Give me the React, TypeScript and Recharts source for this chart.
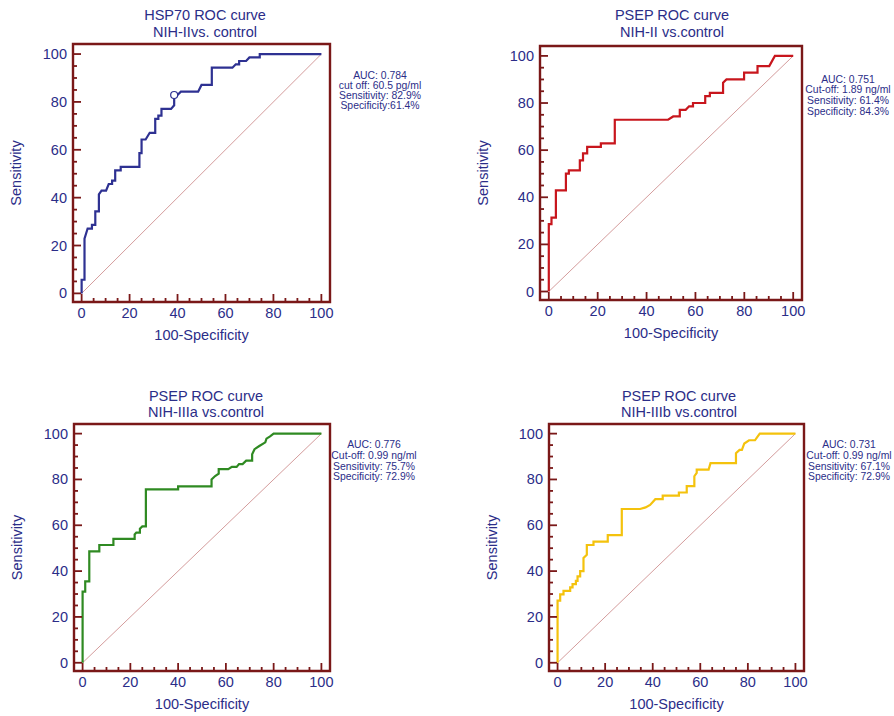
import React from "react";
import { LineChart, Line, XAxis, YAxis, ReferenceArea } from "recharts";

// ROC curve vertices (x = 100-Specificity, y = Sensitivity)
const hspFpr = [0, 0, 1.2, 1.2, 2.5, 4.3, 4.3, 5.7, 5.7, 7.2, 7.2, 8.3, 10.2, 11.3, 12.7, 12.7, 14, 14, 16.3, 16.3, 24.1, 24.1, 25, 25, 26.7, 28.4, 30.7, 30.7, 32, 32, 33.3, 33.3, 37.3, 38.6, 38.6, 40, 41.4, 48.6, 50, 54.3, 54.3, 62.9, 64.3, 65.7, 65.7, 68.6, 70, 74.3, 74.3, 100];
const hspTpr = [0, 5.7, 5.7, 22.9, 27.1, 27.1, 28.6, 28.6, 34.3, 34.3, 41.4, 42.9, 42.9, 45.7, 45.7, 47.1, 47.1, 51.4, 51.4, 52.9, 52.9, 58.6, 58.6, 64.3, 64.3, 67.1, 67.1, 72.9, 72.9, 74.3, 74.3, 77.1, 77.1, 78.6, 82.9, 82.9, 84.3, 84.3, 87.1, 87.1, 94.3, 94.3, 95.7, 95.7, 97.1, 97.1, 98.6, 98.6, 100, 100];

const psep2Fpr = [0, 0, 1.1, 1.1, 2.9, 2.9, 7, 7, 8.2, 8.2, 12.7, 12.7, 14, 14, 15.7, 15.7, 21.3, 21.3, 27, 27, 48.8, 50.9, 53.6, 53.6, 56, 57.4, 59, 59, 64, 64, 65.9, 65.9, 71.3, 71.3, 72.7, 79.9, 79.9, 85.4, 85.4, 90.2, 92.5, 100];
const psep2Tpr = [0, 28.6, 28.6, 31.4, 31.4, 42.9, 42.9, 50, 50, 51.4, 51.4, 55.7, 55.7, 58.6, 58.6, 61.4, 61.4, 62.9, 62.9, 72.9, 72.9, 74.3, 74.3, 77.1, 77.1, 78.6, 78.6, 80, 80, 82.9, 82.9, 84.3, 84.3, 88.6, 90, 90, 92.9, 92.9, 95.7, 95.7, 100, 100];

const psep3aFpr = [0, 0, 1.1, 1.1, 2.8, 2.8, 7, 7, 12.9, 12.9, 21.8, 21.8, 22.5, 24, 24, 25, 26.5, 26.5, 40, 40, 54, 54, 55.5, 57, 57, 61, 62.5, 64.5, 65.5, 67, 68.5, 71, 71, 72, 74, 76.5, 77, 78.5, 80, 100];
const psep3aTpr = [0, 31, 31, 35.5, 35.5, 48.6, 48.6, 51.4, 51.4, 54.1, 54.1, 56, 56.8, 56.8, 58.5, 59.5, 59.5, 75.7, 75.7, 77, 77, 80, 81.5, 82.5, 84.5, 84.5, 85.5, 85.5, 86.7, 86.7, 88.2, 88.2, 91, 93.2, 94.6, 96.2, 97.8, 98.8, 100, 100];

const psep3bFpr = [0, 0, 1.1, 1.1, 2.5, 2.5, 5.3, 5.3, 6.3, 6.3, 7.7, 7.7, 8.4, 8.4, 9.5, 9.5, 10.9, 10.9, 12.3, 12.3, 15.1, 15.1, 21.1, 21.1, 27, 27, 34.7, 37, 38.9, 41.1, 44.2, 44.2, 51, 51, 54.3, 54.3, 57.5, 57.5, 58.5, 58.5, 63.5, 64.3, 75, 75, 76.5, 77.5, 78.5, 80.5, 83, 84, 85, 100];
const psep3bTpr = [0, 27.1, 27.1, 29.8, 29.8, 31.4, 31.4, 32.9, 32.9, 34.3, 34.3, 35.7, 35.7, 37.7, 37.7, 40, 40, 45.7, 47.1, 51.4, 51.4, 52.9, 52.9, 55.7, 55.7, 67.1, 67.1, 67.8, 68.9, 71.4, 71.4, 72.9, 72.9, 74.3, 74.3, 77.1, 77.1, 81.4, 82.9, 84.3, 84.3, 87.1, 87.1, 91.4, 92.9, 92.9, 95.7, 97.1, 97.1, 98.6, 100, 100];

const diagX = [0, 100];
const diagY = [0, 100];

const axisTicks = [0, 5, 10, 15, 20, 25, 30, 35, 40, 45, 50, 55, 60, 65, 70, 75, 80, 85, 90, 95, 100];

const hspLines = ["HSP70 ROC curve", "NIH-IIvs. control"];
const psep2Lines = ["PSEP ROC curve", "NIH-II vs.control"];
const psep3aLines = ["PSEP ROC curve", "NIH-IIIa vs.control"];
const psep3bLines = ["PSEP ROC curve", "NIH-IIIb vs.control"];

const hspNote = ["AUC: 0.784", "cut off: 60.5 pg/ml", "Sensitivity: 82.9%", "Specificity:61.4%"];
const psep2Note = ["AUC: 0.751", "Cut-off: 1.89 ng/ml", "Sensitivity: 61.4%", "Specificity: 84.3%"];
const psep3aNote = ["AUC: 0.776", "Cut-off: 0.99 ng/ml", "Sensitivity: 75.7%", "Specificity: 72.9%"];
const psep3bNote = ["AUC: 0.731", "Cut-off: 0.99 ng/ml", "Sensitivity: 67.1%", "Specificity: 72.9%"];

const TEXT = "#2b2d88";
const FRAME = "#7a1818";
const DIAG = "#d49c9c";
const FONT = "'Liberation Sans', Arial, sans-serif";
const X_DOMAIN = [-3.6, 103.6];
const Y_DOMAIN = [-3.6, 104.2];
const RIGHT_PAD = 16;

const zip = (xs: number[], ys: number[]) => xs.map((x, i) => ({ x, y: ys[i] }));

function XTick(props: any) {
  const { x, y, payload } = props;
  const v = payload.value;
  const major = v % 20 === 0;
  return (
    <g>
      <line x1={x} x2={x} y1={y} y2={y - (major ? 8 : 4)} stroke={FRAME} strokeWidth={1.8} />
      {major && (
        <text x={x} y={y + 16} textAnchor="middle" fill={TEXT} fontSize={14.5} fontFamily={FONT}>
          {v}
        </text>
      )}
    </g>
  );
}

function YTick(props: any) {
  const { x, y, payload } = props;
  const v = payload.value;
  const major = v % 20 === 0;
  return (
    <g>
      <line x1={x} x2={x + (major ? 8 : 4)} y1={y} y2={y} stroke={FRAME} strokeWidth={1.8} />
      {major && (
        <text x={x - 6} y={y} dy={5} textAnchor="end" fill={TEXT} fontSize={14.5} fontFamily={FONT}>
          {v}
        </text>
      )}
    </g>
  );
}

interface PanelProps {
  left: number;
  top: number;
  w: number;
  h: number;
  fpr: number[];
  tpr: number[];
  color: string;
  marker?: { x: number; y: number };
}

function RocPanel({ left, top, w, h, fpr, tpr, color, marker }: PanelProps) {
  const curve = zip(fpr, tpr);
  const diag = zip(diagX, diagY);
  return (
    <div style={{ position: "absolute", left: left - 72, top: top - 2 }}>
      <LineChart width={w + 72 + RIGHT_PAD} height={h + 47} margin={{ top: 2, right: RIGHT_PAD, bottom: 0, left: 0 }}>
        <XAxis
          type="number"
          dataKey="x"
          domain={X_DOMAIN}
          ticks={axisTicks}
          interval={0}
          allowDataOverflow
          axisLine={false}
          tickLine={false}
          tickSize={0}
          tickMargin={0}
          tick={<XTick />}
          height={45}
          label={{ value: "100-Specificity", position: "insideBottom", offset: 7, fill: TEXT, fontSize: 14.5, fontFamily: FONT }}
        />
        <YAxis
          type="number"
          dataKey="y"
          domain={Y_DOMAIN}
          ticks={axisTicks}
          interval={0}
          allowDataOverflow
          axisLine={false}
          tickLine={false}
          tickSize={0}
          tickMargin={0}
          tick={<YTick />}
          width={72}
          label={{ value: "Sensitivity", angle: -90, position: "insideLeft", offset: 15, fill: TEXT, fontSize: 14.5, fontFamily: FONT, style: { textAnchor: "middle" } }}
        />
        <ReferenceArea x1={X_DOMAIN[0]} x2={X_DOMAIN[1]} y1={Y_DOMAIN[0]} y2={Y_DOMAIN[1]} fill="none" stroke={FRAME} strokeWidth={2.4} ifOverflow="visible" />
        <Line data={diag} dataKey="y" type="linear" stroke={DIAG} strokeWidth={1} dot={false} activeDot={false} isAnimationActive={false} />
        <Line data={curve} dataKey="y" type="linear" stroke={color} strokeWidth={2.2} dot={false} activeDot={false} isAnimationActive={false} />
        {marker && (
          <Line
            data={[marker]}
            dataKey="y"
            stroke={color}
            dot={{ r: 3.5, fill: "#ffffff", stroke: color, strokeWidth: 1.2 }}
            activeDot={false}
            isAnimationActive={false}
          />
        )}
      </LineChart>
    </div>
  );
}

function TextBlock({ cx, y, gap, lines, size }: { cx: number; y: number; gap: number; lines: string[]; size: number }) {
  return (
    <>
      {lines.map((t, i) => (
        <text key={i} x={cx} y={y + i * gap} textAnchor="middle" fill={TEXT} fontSize={size} fontFamily={FONT}>
          {t}
        </text>
      ))}
    </>
  );
}

export default function App() {
  return (
    <div style={{ position: "absolute", left: 0, top: 0, width: 894, height: 716, background: "#fff", overflow: "hidden" }}>
      <RocPanel left={73} top={44} w={257} h={258} fpr={hspFpr} tpr={hspTpr} color="#2e3192" marker={{ x: 38.6, y: 82.9 }} />
      <RocPanel left={540} top={46} w={262} h={254} fpr={psep2Fpr} tpr={psep2Tpr} color="#c8161d" />
      <RocPanel left={74} top={424} w={256} h={247} fpr={psep3aFpr} tpr={psep3aTpr} color="#2f8a22" />
      <RocPanel left={549} top={424} w={255} h={247} fpr={psep3bFpr} tpr={psep3bTpr} color="#f4c20d" />
      <svg width={894} height={716} style={{ position: "absolute", left: 0, top: 0, pointerEvents: "none" }}>
        <TextBlock cx={205} y={20} gap={16.5} lines={hspLines} size={14.5} />
        <TextBlock cx={672} y={20} gap={17} lines={psep2Lines} size={14.5} />
        <TextBlock cx={206} y={400.5} gap={16.5} lines={psep3aLines} size={14.5} />
        <TextBlock cx={679} y={400.5} gap={16.5} lines={psep3bLines} size={14.5} />
        <TextBlock cx={380} y={78.5} gap={10.2} lines={hspNote} size={10.4} />
        <TextBlock cx={848} y={82.7} gap={10.6} lines={psep2Note} size={10.4} />
        <TextBlock cx={374} y={448.3} gap={10.7} lines={psep3aNote} size={10.4} />
        <TextBlock cx={849} y={448.3} gap={10.7} lines={psep3bNote} size={10.4} />
      </svg>
    </div>
  );
}
